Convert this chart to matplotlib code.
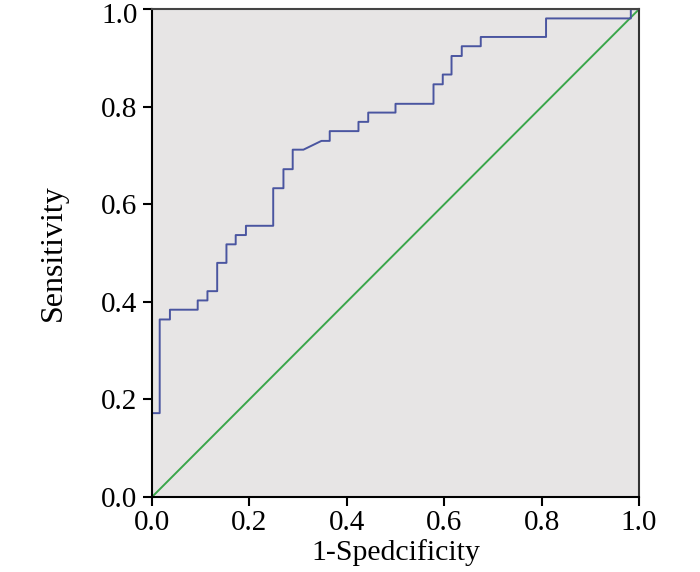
import numpy as np
import matplotlib
matplotlib.use('Agg')
import matplotlib.pyplot as plt
import matplotlib.transforms as mtransforms

# ROC curve points
fpr = [0.0, 0.016, 0.016, 0.037, 0.037, 0.094, 0.094, 0.114, 0.114, 0.134, 0.134,
       0.153, 0.153, 0.172, 0.172, 0.193, 0.193, 0.249, 0.249, 0.270, 0.270, 0.289,
       0.289, 0.311, 0.348, 0.365, 0.365, 0.424, 0.424, 0.444, 0.444, 0.500, 0.500,
       0.578, 0.578, 0.597, 0.597, 0.615, 0.615, 0.636, 0.636, 0.675, 0.675, 0.809,
       0.809, 0.983, 0.983, 1.0]
tpr = [0.172, 0.172, 0.364, 0.364, 0.384, 0.384, 0.403, 0.403, 0.422, 0.422, 0.480,
       0.480, 0.518, 0.518, 0.537, 0.537, 0.556, 0.556, 0.633, 0.633, 0.672, 0.672,
       0.712, 0.712, 0.730, 0.730, 0.750, 0.750, 0.769, 0.769, 0.788, 0.788, 0.806,
       0.806, 0.846, 0.846, 0.866, 0.866, 0.904, 0.904, 0.924, 0.924, 0.943, 0.943,
       0.981, 0.981, 1.0, 1.0]
ref_line = [0.0, 1.0]
ticks = [0.0, 0.2, 0.4, 0.6, 0.8, 1.0]

plt.rcParams['font.family'] = ['Liberation Serif', 'DejaVu Serif']

fig = plt.figure(figsize=(7, 5.72), dpi=100)
ax = fig.add_axes([0.217, 0.131, 0.696, 0.853])
ax.set_facecolor('#e7e5e5')

ax.plot(ref_line, ref_line, color='#3aa64a', lw=1.4)
ax.plot(fpr, tpr, color='#4a55a0', lw=1.4)

ax.set_xlim(0, 1)
ax.set_ylim(0, 1)
ax.set_xticks(ticks)
ax.set_yticks(ticks)
ax.set_xticklabels([f'{t:.1f}' for t in ticks], fontsize=21)
ax.set_yticklabels([f'{t:.1f}' for t in ticks], fontsize=21)
ax.tick_params(direction='out', length=6.5, width=1.5)
ax.tick_params(axis='y', pad=4)
ax.tick_params(axis='x', pad=3)
for s in ax.spines.values():
    s.set_linewidth(1.5)
ax.spines['top'].set_color('#444444')
ax.spines['right'].set_color('#333333')

# nudge the top y label down so it stays inside the figure
top_lab = ax.get_yticklabels()[-1]
top_lab.set_transform(top_lab.get_transform() +
                      mtransforms.ScaledTranslation(0, -3 / 72, fig.dpi_scale_trans))

ax.set_xlabel('1-Spedcificity', fontsize=21.5, labelpad=2)
ax.set_ylabel('Sensitivity', fontsize=23, labelpad=24)

fig.savefig('out.png', dpi=100)
